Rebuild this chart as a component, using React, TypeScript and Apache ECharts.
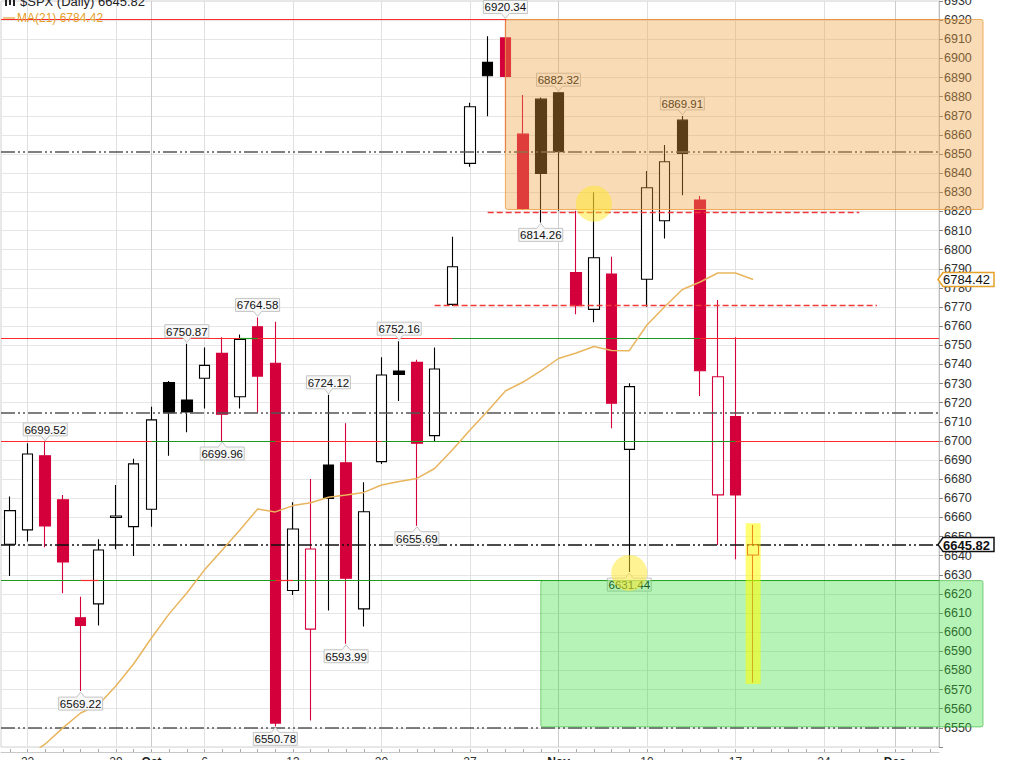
import React, { useEffect, useRef } from "react";
import * as echarts from "echarts";

const FONT = '"Liberation Sans", Arial, sans-serif';

// ---------- categories (trading days) ----------
const DATES = [
  "2025-09-19",
  "2025-09-22", "2025-09-23", "2025-09-24", "2025-09-25", "2025-09-26",
  "2025-09-29", "2025-09-30", "2025-10-01", "2025-10-02", "2025-10-03",
  "2025-10-06", "2025-10-07", "2025-10-08", "2025-10-09", "2025-10-10",
  "2025-10-13", "2025-10-14", "2025-10-15", "2025-10-16", "2025-10-17",
  "2025-10-20", "2025-10-21", "2025-10-22", "2025-10-23", "2025-10-24",
  "2025-10-27", "2025-10-28", "2025-10-29", "2025-10-30", "2025-10-31",
  "2025-11-03", "2025-11-04", "2025-11-05", "2025-11-06", "2025-11-07",
  "2025-11-10", "2025-11-11", "2025-11-12", "2025-11-13", "2025-11-14",
  "2025-11-17", "2025-11-18", "2025-11-19", "2025-11-20", "2025-11-21",
  "2025-11-24", "2025-11-25", "2025-11-26", "2025-11-28",
  "2025-12-01", "2025-12-02", "2025-12-03",
];

// ---------- OHLC ----------
const OPEN = [
  6646.0, 6653.5, 6692.2, 6669.2, 6607.6, 6614.8, 6660.0, 6655.2, 6664.3, 6730.5,
  6721.4, 6732.8, 6745.8, 6723.1, 6759.7, 6740.6, 6621.8, 6601.6, 6687.4, 6688.6,
  6612.2, 6689.2, 6736.6, 6741.1, 6702.8, 6771.4, 6845.1, 6897.9, 6910.7, 6860.4,
  6878.7, 6882.0, 6788.0, 6768.8, 6787.3, 6695.6, 6784.5, 6815.1, 6867.7, 6825.9,
  6671.8, 6712.7, 6640.4,
];
const CLOSE = [
  6663.6, 6693.2, 6655.6, 6636.7, 6603.5, 6643.0, 6660.8, 6688.0, 6711.0, 6714.8,
  6715.1, 6739.5, 6714.0, 6753.1, 6733.9, 6552.5, 6654.0, 6643.5, 6670.0, 6628.2,
  6663.0, 6734.5, 6734.8, 6698.8, 6737.6, 6791.1, 6874.7, 6890.9, 6890.6, 6821.6,
  6839.9, 6851.2, 6770.7, 6795.8, 6719.7, 6728.4, 6832.4, 6846.0, 6850.3, 6736.7,
  6733.6, 6671.8, 6645.82,
];
const LOW = [
  6629.4, 6647.4, 6644.4, 6620.4, 6569.22, 6603.5, 6643.4, 6639.9, 6655.2, 6692.3,
  6704.5, 6717.0, 6699.96, 6717.0, 6714.8, 6550.78, 6619.5, 6553.8, 6611.3, 6593.99,
  6603.0, 6688.0, 6720.9, 6655.69, 6699.6, 6770.5, 6843.3, 6869.8, 6851.0, 6820.7,
  6814.26, 6820.3, 6766.2, 6762.0, 6706.6, 6631.44, 6770.2, 6805.9, 6828.5, 6723.5,
  6645.6, 6638.2, 6573.7,
];
const HIGH = [
  6670.9, 6698.8, 6699.52, 6671.8, 6618.6, 6648.6, 6677.0, 6690.7, 6717.9, 6731.3,
  6750.87, 6748.9, 6754.2, 6755.7, 6764.58, 6762.3, 6668.0, 6680.1, 6724.12, 6709.2,
  6678.4, 6743.7, 6752.16, 6742.5, 6748.8, 6806.8, 6876.8, 6911.6, 6920.34, 6880.8,
  6879.5, 6882.32, 6820.3, 6830.0, 6796.3, 6730.1, 6841.1, 6854.7, 6869.91, 6828.0,
  6773.7, 6754.2, 6656.1,
];
const MA21 = [
  6525.0, 6534.8, 6541.6, 6550.0, 6557.8, 6562.0, 6572.0, 6583.5, 6597.0, 6609.6,
  6620.5, 6632.6, 6643.0, 6653.5, 6664.4, 6662.9, 6666.2, 6667.7, 6670.6, 6671.8,
  6673.1, 6677.0, 6678.8, 6680.4, 6685.6, 6695.3, 6705.7, 6715.7, 6726.1, 6730.8,
  6736.6, 6743.1, 6746.0, 6749.4, 6747.3, 6747.2, 6760.6, 6770.2, 6779.2, 6783.1,
  6787.8, 6787.8, 6784.42,
];

// ---------- axis ticks ----------
const X_LABELS: [string, string, boolean][] = [
  ["2025-09-22", "22", false], ["2025-09-29", "29", false], ["2025-10-01", "Oct", true],
  ["2025-10-06", "6", false], ["2025-10-13", "13", false], ["2025-10-20", "20", false],
  ["2025-10-27", "27", false], ["2025-11-03", "Nov", true], ["2025-11-10", "10", false],
  ["2025-11-17", "17", false], ["2025-11-24", "24", false], ["2025-12-01", "Dec", true],
];
const Y_MIN = 6540;
const Y_MAX = 6930;
const Y_STEP = 10;
const Y_HIDDEN_LABELS = [6540];

// ---------- annotations ----------
const HIGH_NOTES: [string, number][] = [
  ["2025-10-29", 6920.34], ["2025-11-03", 6882.32], ["2025-11-12", 6869.91],
  ["2025-10-09", 6764.58], ["2025-10-03", 6750.87], ["2025-10-21", 6752.16],
  ["2025-10-15", 6724.12], ["2025-09-23", 6699.52],
];
const LOW_NOTES: [string, number][] = [
  ["2025-10-31", 6814.26], ["2025-10-07", 6699.96], ["2025-10-22", 6655.69],
  ["2025-11-07", 6631.44], ["2025-10-16", 6593.99], ["2025-09-25", 6569.22],
  ["2025-10-10", 6550.78],
];

const RED_LINE = "#ff2a2a";
const GREEN_LINE = "#1f9a1f";

// full-width solid levels
const SOLID_LEVELS: [number, string][] = [
  [6920.34, RED_LINE], [6753.7, RED_LINE], [6700, RED_LINE], [6627, GREEN_LINE],
];
// coloured pieces laid over them
const LEVEL_SEGMENTS: [number, string, string, string][] = [
  [6753.7, "2025-10-08", "2025-10-09", GREEN_LINE],
  [6753.7, "2025-10-24", "2025-11-13", GREEN_LINE],
  [6700, "2025-10-01", "2025-10-10", GREEN_LINE],
  [6700, "2025-10-20", "2025-11-17", GREEN_LINE],
  [6627, "2025-09-25", "2025-09-26", RED_LINE],
  [6627, "2025-10-10", "2025-10-13", RED_LINE],
];
const DASHDOT_LEVELS: [number, string][] = [
  [6851, "#555555"], [6715, "#555555"], [6645.82, "#111111"], [6550, "#555555"],
];
const DASHED_LEVELS: [number, string, string][] = [
  [6819.5, "2025-10-28", "2025-11-26"],
  [6771, "2025-10-23", "2025-11-28"],
];

const ZONES = [
  { from: "2025-10-29", top: 6920.34, bottom: 6821, fill: "rgba(238,160,60,0.38)", stroke: "rgba(236,160,70,0.85)" },
  { from: "2025-10-31", top: 6627, bottom: 6550.5, fill: "rgba(40,220,40,0.34)", stroke: "rgba(40,170,40,0.55)" },
];
const CIRCLES: [string, number][] = [["2025-11-05", 6824], ["2025-11-07", 6631]];
const HIGHLIGHT: [string, number, number] = ["2025-11-18", 6657, 6573];
const TAGS: [number, string, boolean][] = [[6784.42, "#e6a12a", false], [6645.82, "#111111", true]];

const TITLE = "$SPX (Daily) 6645.82";
const MA_LEGEND = "MA(21) 6784.42";

const RED = "#d4003b";
const BLACK = "#000000";
const MA_COLOR = "#e8b55e";

const GRID = { left: 1, right: 89, top: 1, bottom: 13 };

function buildOption(): any {
  const labelMap = new Map<string, [string, boolean]>();
  X_LABELS.forEach(([d, t, b]) => labelMap.set(d, [t, b]));

  const candleData = OPEN.map((o, i) => {
    const c = CLOSE[i];
    const prev = i > 0 ? CLOSE[i - 1] : -Infinity;
    const col = c < prev ? RED : BLACK;
    const fill = c > o ? "#ffffff" : col;
    return {
      value: [o, c, LOW[i], HIGH[i]],
      itemStyle: { color: fill, color0: fill, borderColor: col, borderColor0: col, borderWidth: 1.1 },
    };
  });

  const nulls = DATES.map(() => null);
  const dashDot = [14, 3, 2, 3, 2, 3];

  const levelLines: any[] = [];
  SOLID_LEVELS.forEach(([v, c]) =>
    levelLines.push({ yAxis: v, lineStyle: { color: c, width: 1.2, type: "solid" } })
  );
  LEVEL_SEGMENTS.forEach(([v, a, b, c]) =>
    levelLines.push([
      { coord: [a, v], lineStyle: { color: c, width: 1.2, type: "solid" } },
      { coord: [b, v], lineStyle: { color: c, width: 1.2, type: "solid" } },
    ])
  );
  DASHDOT_LEVELS.forEach(([v, c]) =>
    levelLines.push({ yAxis: v, lineStyle: { color: c, width: 1.6, type: dashDot } })
  );
  DASHED_LEVELS.forEach(([v, a, b]) =>
    levelLines.push([
      { coord: [a, v], lineStyle: { color: "#f03a3a", width: 1.3, type: [6, 3] } },
      { coord: [b, v], lineStyle: { color: "#f03a3a", width: 1.3, type: [6, 3] } },
    ])
  );

  return {
    animation: false,
    backgroundColor: "#ffffff",
    grid: {
      ...GRID,
      containLabel: false,
      outerBoundsMode: "none",
      show: true,
      borderColor: "#d0d0d0",
      borderWidth: 1,
      backgroundColor: "transparent",
    },
    xAxis: {
      type: "category",
      data: DATES,
      boundaryGap: true,
      offset: 5,
      axisLine: { show: true, lineStyle: { color: "#c8c8c8", width: 1 } },
      axisTick: { show: true, alignWithLabel: true, inside: true, length: 3, interval: 0, lineStyle: { color: "#aaaaaa" } },
      axisLabel: {
        margin: 4,
        color: "#333333",
        fontSize: 12,
        fontFamily: FONT,
        interval: (_i: number, v: string) => labelMap.has(v),
        formatter: (v: string) => {
          const l = labelMap.get(v);
          if (!l) return "";
          return l[1] ? `{b|${l[0]}}` : l[0];
        },
        rich: { b: { fontWeight: "bold", fontSize: 12, fontFamily: FONT, color: "#222222" } },
      },
      splitLine: { show: false },
    },
    yAxis: {
      type: "value",
      position: "right",
      min: Y_MIN,
      max: Y_MAX,
      interval: Y_STEP,
      axisLine: { show: true, lineStyle: { color: "#bdbdbd" } },
      axisTick: { show: true, length: 4, lineStyle: { color: "#888888" } },
      axisLabel: {
        margin: 5,
        color: "#333333",
        fontSize: 12.5,
        fontFamily: FONT,
        formatter: (v: number) => (Y_HIDDEN_LABELS.includes(v) ? "" : String(v)),
      },
      splitLine: { show: true, lineStyle: { color: "#e6e6e6", width: 1 } },
    },
    series: [
      {
        type: "line",
        data: nulls,
        symbol: "none",
        silent: true,
        z: 1,
        markLine: {
          silent: true,
          z: 1,
          symbol: ["none", "none"],
          label: { show: false },
          data: X_LABELS.map(([d, , b]) => ({
            xAxis: d,
            lineStyle: { color: b ? "#cccccc" : "#e0e0e0", width: 1, type: "solid" },
          })),
        },
      },
      {
        type: "candlestick",
        data: candleData,
        barWidth: 11,
        z: 2,
      },
      {
        type: "line",
        data: nulls,
        symbol: "none",
        silent: true,
        z: 3,
        markLine: {
          silent: true,
          z: 3,
          symbol: ["none", "none"],
          label: { show: false },
          data: levelLines,
        },
      },
      {
        type: "line",
        data: MA21,
        symbol: "none",
        showSymbol: false,
        clip: true,
        z: 4,
        lineStyle: { color: MA_COLOR, width: 1.5 },
      },
    ],
  };
}

function buildGraphics(chart: any): any[] {
  const toPx = (d: string, v: number): number[] =>
    chart.convertToPixel({ gridIndex: 0 }, [DATES.indexOf(d), v]);
  const yPx = (v: number) => toPx(DATES[0], v)[1];
  const plotRight = chart.getWidth() - GRID.right;
  const out: any[] = [];

  // title + legend
  out.push({ type: "rect", shape: { x: 5, y: 0, width: 2, height: 6 }, style: { fill: "#222" }, z: 60 });
  out.push({ type: "rect", shape: { x: 9, y: 0, width: 2, height: 5 }, style: { fill: "#222" }, z: 60 });
  out.push({ type: "rect", shape: { x: 13, y: 0, width: 2, height: 6 }, style: { fill: "#222" }, z: 60 });
  out.push({
    type: "text", z: 60,
    style: { x: 20, y: 8, text: TITLE, fill: "#222222", fontSize: 13, fontFamily: FONT, align: "left", verticalAlign: "bottom" },
  });
  out.push({ type: "line", shape: { x1: 3, y1: 18, x2: 15, y2: 18 }, style: { stroke: MA_COLOR, lineWidth: 1.5 }, z: 60 });
  out.push({
    type: "text", z: 60,
    style: { x: 17, y: 18, text: MA_LEGEND, fill: "#e6a02a", fontSize: 12, fontFamily: FONT, align: "left", verticalAlign: "middle" },
  });

  // callout notes
  const W = 44, H = 13, hw = W / 2;
  const note = (x: number, y: number, text: string, above: boolean) => {
    let pts: number[][];
    let ty: number;
    if (above) {
      const B = y - 6, T = B - H;
      pts = [[x - hw, T], [x + hw, T], [x + hw, B], [x + 4, B], [x, y - 1], [x - 4, B], [x - hw, B]];
      ty = (T + B) / 2;
    } else {
      const T = y + 6, B = T + H;
      pts = [[x - hw, T], [x - 4, T], [x, y + 1], [x + 4, T], [x + hw, T], [x + hw, B], [x - hw, B]];
      ty = (T + B) / 2;
    }
    out.push({ type: "polygon", z: 40, shape: { points: pts }, style: { fill: "#f8f8f8", stroke: "#c4c4c4", lineWidth: 1 } });
    out.push({
      type: "text", z: 41,
      style: { x, y: ty + 0.5, text, fill: "#111111", fontSize: 11.5, fontFamily: FONT, align: "center", verticalAlign: "middle" },
    });
  };
  HIGH_NOTES.forEach(([d, v]) => {
    const [x, y] = toPx(d, v);
    note(x, y, v.toFixed(2), true);
  });
  LOW_NOTES.forEach(([d, v]) => {
    const [x, y] = toPx(d, v);
    note(x, y, v.toFixed(2), false);
  });

  // zones
  ZONES.forEach((zn) => {
    const [x0, y0] = toPx(zn.from, zn.top);
    const y1 = yPx(zn.bottom);
    out.push({
      type: "rect", z: 50, silent: true,
      shape: { x: x0, y: y0, width: plotRight + 44 - x0, height: y1 - y0, r: 2 },
      style: { fill: zn.fill, stroke: zn.stroke, lineWidth: 1 },
    });
  });

  // circles
  CIRCLES.forEach(([d, v]) => {
    const [x, y] = toPx(d, v);
    out.push({ type: "circle", z: 55, shape: { cx: x, cy: y, r: 18 }, style: { fill: "rgba(255,232,40,0.5)" } });
  });

  // highlight
  {
    const [x, yT] = toPx(HIGHLIGHT[0], HIGHLIGHT[1]);
    const yB = yPx(HIGHLIGHT[2]);
    out.push({
      type: "rect", z: 56,
      shape: { x: x - 7.5, y: yT, width: 15, height: yB - yT },
      style: { fill: "rgba(255,255,0,0.55)" },
    });
  }

  // right-axis tags
  TAGS.forEach(([v, c, bold]) => {
    const y = yPx(v);
    const x0 = plotRight - 1;
    out.push({
      type: "polygon", z: 60,
      shape: { points: [[x0, y], [x0 + 5, y - 7], [x0 + 56, y - 7], [x0 + 56, y + 7], [x0 + 5, y + 7]] },
      style: { fill: "#ffffff", stroke: c, lineWidth: 1.5 },
    });
    out.push({
      type: "text", z: 61,
      style: {
        x: x0 + 5, y: y + 0.5, text: v.toFixed(2), fill: "#111111", fontSize: 13, fontFamily: FONT,
        fontWeight: bold ? "bold" : "normal", align: "left", verticalAlign: "middle",
      },
    });
  });

  return out;
}

export default function App() {
  const ref = useRef<HTMLDivElement>(null);
  useEffect(() => {
    const chart = echarts.init(ref.current!, null, { renderer: "svg" });
    chart.setOption(buildOption());
    chart.setOption({ graphic: { elements: buildGraphics(chart) } });
    return () => chart.dispose();
  }, []);
  return (
    <div
      ref={ref}
      style={{ position: "fixed", left: 0, top: 0, width: 1028, height: 760, background: "#fff" }}
    />
  );
}
